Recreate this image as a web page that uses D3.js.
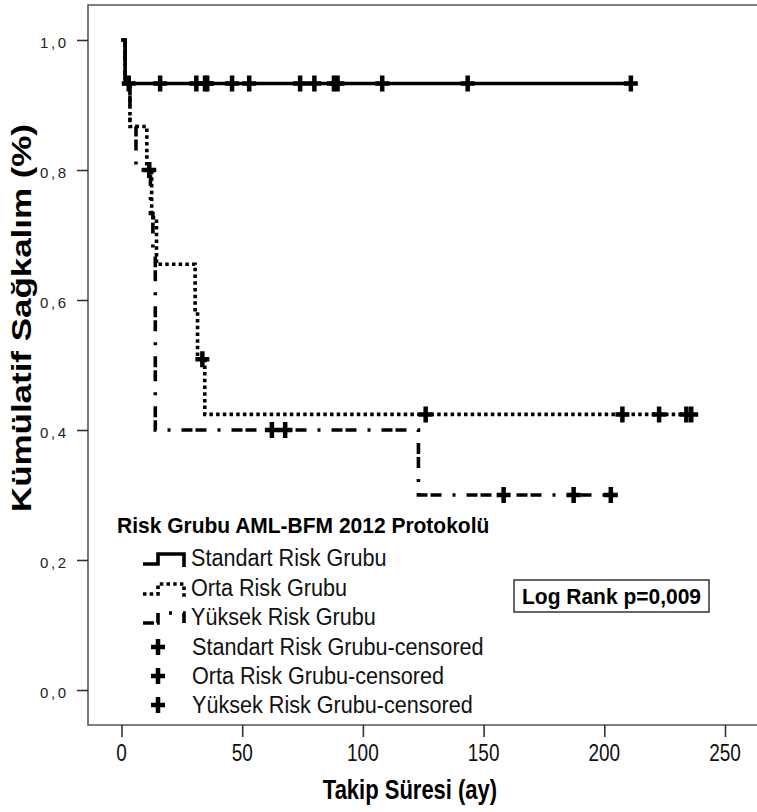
<!DOCTYPE html>
<html>
<head>
<meta charset="utf-8">
<script src="https://cdn.jsdelivr.net/npm/d3@7"></script>
<style>
  body { margin: 0; background: #fff; }
  svg { display: block; }
  text { font-family: "Liberation Sans", Arial, sans-serif; }
</style>
</head>
<body>
<div id="chart"></div>
<script>
// Kaplan-Meier step points (time in months, survival)
const groups = ['Standart Risk Grubu', 'Orta Risk Grubu', 'Yüksek Risk Grubu'];

const stdTimes = [0, 1.5];
const stdSurv = [1, 0.933];
const stdCensored = [3, 16, 31, 34.6, 35.5, 45.8, 52.9, 74, 79.9, 88, 89.5, 108, 143.4, 211];

const ortaTimes = [0, 1.5, 3.5, 10.5, 12.5, 14.5, 30.5, 31.5, 34.5];
const ortaSurv = [1, 0.933, 0.867, 0.8, 0.727, 0.655, 0.582, 0.509, 0.424];
const ortaCensored = [11.5, 33.5, 126, 207.5, 222.7, 234, 236];

const yuksekTimes = [0, 1.5, 3.5, 6, 12, 13, 14, 123];
const yuksekSurv = [1, 0.933, 0.867, 0.8, 0.733, 0.667, 0.4, 0.3];
const yuksekCensored = [62.3, 67.8, 158.3, 187.3, 202.7];

const xTicks = [0, 50, 100, 150, 200, 250];
const yTicks = [0, 0.2, 0.4, 0.6, 0.8, 1.0];

const W = 757, H = 812;
const frame = { left: 88, top: 5, bottom: 725 };
const stretch = 1.27; // the original picture is stretched vertically

const svg = d3.select('#chart').append('svg')
    .attr('width', W)
    .attr('height', H);

const x = d3.scaleLinear().domain([0, 250]).range([121.5, 725]);
const y = d3.scaleLinear().domain([0, 1]).range([690, 40]);

// text helper: sx/sy scale the glyphs around the anchor point
function label(parent, tx, ty, str, size, opts = {}) {
    const sx = opts.sx || 1, sy = opts.sy || 1, rot = opts.rotate || 0;
    return parent.append('text')
        .attr('transform', `translate(${tx},${ty}) rotate(${rot}) scale(${sx},${sy})`)
        .attr('text-anchor', opts.anchor || 'start')
        .attr('font-size', size)
        .attr('font-weight', opts.weight || 'normal')
        .attr('fill', opts.fill || '#000')
        .text(str);
}

// frame (open on the right)
svg.append('path')
    .attr('d', `M${W},${frame.top}H${frame.left}V${frame.bottom}H${W}`)
    .attr('fill', 'none')
    .attr('stroke', '#555')
    .attr('stroke-width', 1.6);

// x axis
const xAxis = svg.append('g').attr('transform', `translate(0,${frame.bottom})`)
    .call(d3.axisBottom(x).tickValues(xTicks).tickSize(12).tickSizeOuter(0).tickFormat(''));
xAxis.select('.domain').remove();
xAxis.selectAll('line').attr('stroke', '#333').attr('stroke-width', 1.6);
xTicks.forEach(t => label(svg, x(t), 761, String(t), 19, { anchor: 'middle', sy: stretch, fill: '#111' }));

// y axis
const yAxis = svg.append('g').attr('transform', `translate(${frame.left},0)`)
    .call(d3.axisLeft(y).tickValues(yTicks).tickSize(11).tickSizeOuter(0).tickFormat(''));
yAxis.select('.domain').remove();
yAxis.selectAll('line').attr('stroke', '#333').attr('stroke-width', 1.6);
yTicks.forEach(t => {
    label(svg, 40, y(t) + 8, d3.format('.1f')(t).replace('.', ','), 15, { fill: '#222' })
        .attr('font-family', '"DejaVu Sans Mono", monospace')
        .attr('letter-spacing', 2.6);
});

// axis titles
label(svg, 410, 799, 'Takip Süresi (ay)', 22, { anchor: 'middle', weight: 'bold', sy: stretch });
label(svg, 31, 318, 'Kümülatif Sağkalım (%)', 27.5,
    { anchor: 'middle', weight: 'bold', rotate: -90, sx: stretch });

// curves
const styles = [
    { dash: null },
    { dash: '3.5,3.2' },
    { dash: '11,3,11,11,3,11' }
];
const series = [
    { times: stdTimes, surv: stdSurv, censored: stdCensored },
    { times: ortaTimes, surv: ortaSurv, censored: ortaCensored },
    { times: yuksekTimes, surv: yuksekSurv, censored: yuksekCensored }
];

const line = d3.line().x(d => x(d[0])).y(d => y(d[1])).curve(d3.curveStepAfter);

function survAt(s, t) {
    const i = d3.bisectRight(s.times, t) - 1;
    return s.surv[Math.max(0, i)];
}

const cross = 'M-7,0H7M0,-8V8';

series.forEach((s, i) => {
    const pts = s.times.map((t, k) => [t, s.surv[k]]);
    const end = d3.max(s.censored);
    pts.push([end, s.surv[s.surv.length - 1]]);
    svg.append('path')
        .attr('d', line(pts))
        .attr('fill', 'none')
        .attr('stroke', '#000')
        .attr('stroke-width', 3.6)
        .attr('stroke-dasharray', styles[i].dash);

    svg.append('g').selectAll('path')
        .data(s.censored)
        .join('path')
        .attr('d', cross)
        .attr('transform', t => `translate(${x(t)},${y(survAt(s, t))})`)
        .attr('stroke', '#000')
        .attr('stroke-width', 4.5)
        .attr('fill', 'none');
});

// legend
const legend = svg.append('g');
label(legend, 117, 533, 'Risk Grubu AML-BFM 2012 Protokolü', 21, { weight: 'bold', sy: 1.05 });

const rowY = [558, 588, 617, 647, 676, 705];
groups.forEach((g, i) => {
    const c = rowY[i];
    legend.append('path')
        .attr('d', `M143,${c + 6}H158V${c - 4}H184V${c + 9}`)
        .attr('fill', 'none')
        .attr('stroke', '#000')
        .attr('stroke-width', 3.6)
        .attr('stroke-dasharray', styles[i].dash);
    label(legend, 191, c + 8, g, 21.6, { sy: 1.08, fill: '#111' });
});
groups.forEach((g, i) => {
    const c = rowY[i + 3];
    legend.append('path')
        .attr('d', cross)
        .attr('transform', `translate(158,${c})`)
        .attr('stroke', '#000')
        .attr('stroke-width', 4.5);
    label(legend, 192, c + 8, g + '-censored', 21.6, { sy: 1.08, fill: '#111' });
});

// log rank box
svg.append('rect')
    .attr('x', 514).attr('y', 580)
    .attr('width', 195).attr('height', 32)
    .attr('fill', '#fff')
    .attr('stroke', '#333')
    .attr('stroke-width', 1.5);
label(svg, 611.5, 603.5, 'Log Rank p=0,009', 21, { anchor: 'middle', weight: 'bold', sy: 1.05 });
</script>
</body>
</html>
